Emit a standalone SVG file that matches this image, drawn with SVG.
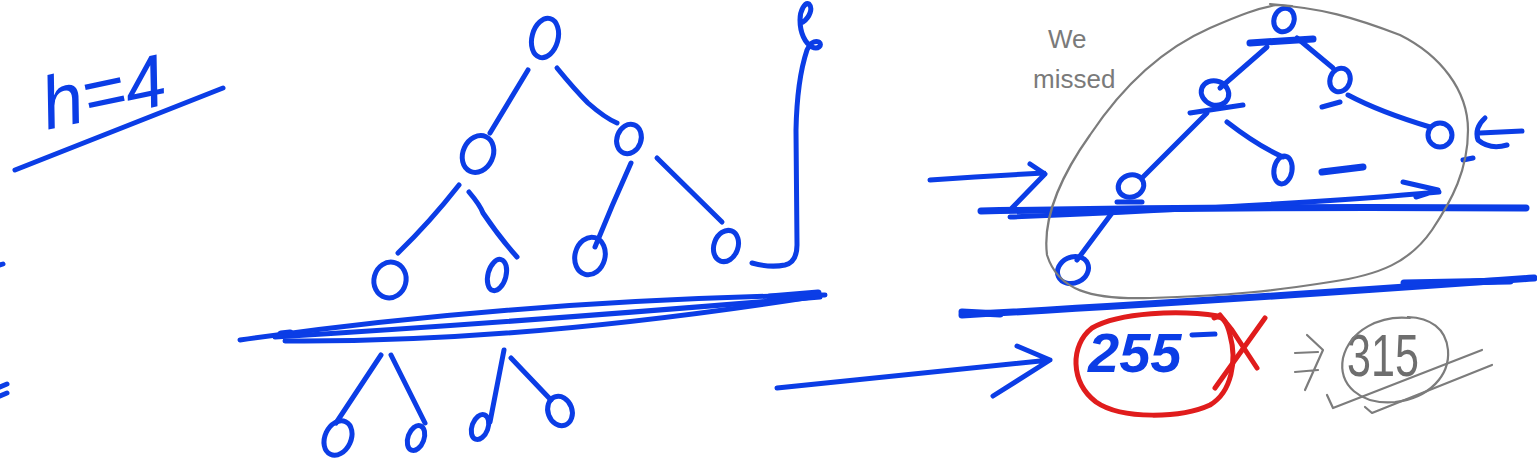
<svg xmlns="http://www.w3.org/2000/svg" width="1537" height="470" viewBox="0 0 1537 470">
<style>
.b{fill:none;stroke:#0b3de6;stroke-width:5;stroke-linecap:round;stroke-linejoin:round}
.bt{fill:none;stroke:#0b3de6;stroke-width:7;stroke-linecap:round;stroke-linejoin:round}
.r{fill:none;stroke:#e01c1c;stroke-width:5;stroke-linecap:round;stroke-linejoin:round}
.g{fill:none;stroke:#7c7c7c;stroke-width:2.2;stroke-linecap:round;stroke-linejoin:round}
.n{fill:none;stroke:#0b3de6;stroke-width:5}
.hand{font-family:"Liberation Sans","DejaVu Sans",sans-serif}
</style>
<rect width="1537" height="470" fill="#ffffff"/>

<!-- h = 4 -->
<g id="height-label">
<text class="hand" x="40" y="118" font-size="74" font-style="italic" fill="#0b3de6" transform="rotate(-12 100 90)">h=4</text>
<path class="b" d="M15,170 L223,88"/>
</g>

<!-- left edge fragments -->
<g id="edge-marks">
<path class="b" d="M0,265 L3,264 M0,387 L7,384 M0,396 L7,393"/>
</g>

<!-- left tree nodes -->
<g id="left-tree">
<g id="lt-root"><ellipse class="n" cx="545" cy="38" rx="13" ry="20" transform="rotate(15 545 38)"/></g>
<g id="lt-a"><ellipse class="n" cx="478" cy="154" rx="15" ry="19" transform="rotate(25 478 154)"/></g>
<g id="lt-b"><ellipse class="n" cx="629" cy="139" rx="12" ry="15" transform="rotate(20 629 139)"/></g>
<g id="lt-c"><ellipse class="n" cx="390" cy="280" rx="16" ry="18" transform="rotate(15 390 280)"/></g>
<g id="lt-d"><ellipse class="n" cx="497" cy="275" rx="9" ry="16" transform="rotate(15 497 275)"/></g>
<g id="lt-e"><ellipse class="n" cx="590" cy="256" rx="15" ry="19" transform="rotate(15 590 256)"/></g>
<g id="lt-f"><ellipse class="n" cx="726" cy="246" rx="12" ry="16" transform="rotate(20 726 246)"/></g>
<g id="lt-g"><ellipse class="n" cx="338" cy="438" rx="13" ry="18" transform="rotate(25 338 438)"/></g>
<g id="lt-h"><ellipse class="n" cx="416" cy="438" rx="8" ry="13" transform="rotate(20 416 438)"/></g>
<g id="lt-i"><ellipse class="n" cx="480" cy="427" rx="8" ry="13" transform="rotate(20 480 427)"/></g>
<g id="lt-j"><ellipse class="n" cx="560" cy="411" rx="12" ry="15" transform="rotate(-20 560 411)"/></g>
</g>

<!-- right tree nodes -->
<g id="right-tree">
<g id="rt-root"><ellipse class="n" cx="1284" cy="20" rx="10" ry="12" transform="rotate(20 1284 20)"/></g>
<g id="rt-a"><ellipse class="n" cx="1215" cy="93" rx="14" ry="12" transform="rotate(20 1215 93)"/></g>
<g id="rt-b"><ellipse class="n" cx="1340" cy="80" rx="10" ry="12" transform="rotate(20 1340 80)"/></g>
<g id="rt-c"><ellipse class="n" cx="1440" cy="135" rx="12" ry="12"/></g>
<g id="rt-d"><ellipse class="n" cx="1283" cy="170" rx="9" ry="14" transform="rotate(10 1283 170)"/></g>
<g id="rt-e"><ellipse class="n" cx="1131" cy="186" rx="13" ry="11" transform="rotate(-20 1131 186)"/></g>
<g id="rt-f"><ellipse class="n" cx="1073" cy="270" rx="16" ry="13" transform="rotate(-25 1073 270)"/></g>
</g>

<!-- connectors -->
<g id="connectors">
<path class="b" d="M528,70 Q510,100 490,133"/>
<path class="b" d="M557,68 Q575,90 588,103 Q605,118 617,123"/>
<path class="b" d="M459,185 Q430,222 398,253"/>
<path class="b" d="M469,192 Q480,205 483,213 Q500,238 517,257"/>
<path class="b" d="M631,163 Q612,205 595,247"/>
<path class="b" d="M657,158 L722,222"/>
<path class="b" d="M381,355 L336,423"/>
<path class="b" d="M391,355 L425,423"/>
<path class="b" d="M504,350 L490,422"/>
<path class="b" d="M511,358 L551,400"/>
<path class="b" d="M752,263 Q770,268 785,265 Q797,262 797,245 L796,130 Q797,80 807,50 C809,44 814,40 819,42 C823,45 818,50 812,47 C805,43 800,33 800,20 C800,10 805,2 809,4 C813,8 810,17 803,22"/>
<path class="b" d="M1267,47 L1220,88"/>
<path class="b" d="M1297,38 L1333,68"/>
<path class="b" d="M1348,95 Q1380,112 1430,127"/>
<path class="b" d="M1227,122 Q1258,146 1283,157"/>
<path class="b" d="M1207,113 L1143,177"/>
<path class="b" d="M1112,213 L1077,260"/>
<path class="b" d="M930,180 Q990,176 1044,173 M1030,164 L1045,174 L1012,208"/>
<path class="b" d="M777,388 L1050,360 M1017,346 L1050,360 L993,396"/>
<path class="b" d="M1485,118 Q1474,128 1478,140 Q1490,150 1507,145 M1480,133 L1522,131"/>
</g>

<!-- level lines and marks -->
<g id="level-lines">
<path class="b" d="M240,340 Q520,300 825,295"/>
<path class="b" d="M275,337 Q520,322 820,297"/>
<path class="b" d="M285,341 Q520,343 818,296"/>
<path class="bt" d="M770,297 L818,293"/>
<path class="bt" d="M281,334 L290,333"/>
<path class="bt" d="M981,211 Q1250,206 1526,208"/>
<path class="b" d="M1010,217 Q1300,205 1439,192 M1403,182 L1438,190 L1416,197"/>
<path class="bt" d="M962,315 Q1200,302 1534,278"/>
<path class="bt" d="M962,312 L1000,314"/>
<path class="bt" d="M1404,283 L1510,281"/>
<path class="bt" d="M1250,43 L1313,39"/>
<path class="b" d="M1190,113 L1243,105"/>
<path class="b" d="M1322,107 L1340,102"/>
<path class="bt" d="M1322,172 L1363,167"/>
<path class="b" d="M1117,202 L1142,202"/>
<path class="b" d="M1463,160 L1473,158"/>
</g>

<!-- gray annotation -->
<g id="missed-group">
<path class="g" d="M1277,5 C1320,8 1353,17 1400,35 C1440,55 1468,90 1468,130 C1468,170 1452,200 1432,230 C1410,262 1380,275 1330,282 C1280,290 1230,296 1150,298 C1090,300 1058,290 1047,255 C1042,215 1065,170 1090,135 C1120,90 1160,50 1210,28 C1240,15 1258,8 1277,5"/>
<path class="g" d="M1270,4 L1292,6"/>
<text class="hand" x="1048" y="48" font-size="26" fill="#7a7a7a">We</text>
<text class="hand" x="1033" y="88" font-size="26" fill="#7a7a7a">missed</text>
</g>

<!-- result 255 -->
<g id="result-255">
<text class="hand" x="1088" y="372" font-size="56" font-style="italic" font-weight="bold" fill="#0b3de6">255</text>
<path class="b" d="M1192,335 L1215,334"/>
<path class="r" d="M1218,316 C1180,310 1120,312 1092,328 C1070,345 1070,382 1096,402 C1122,420 1182,418 1210,405 C1232,392 1237,360 1230,335 C1227,322 1222,314 1214,318"/>
<path class="r" d="M1265,318 L1215,388 M1220,315 L1232,330 L1257,368"/>
</g>

<!-- result 315 -->
<g id="result-315">
<path class="g" d="M1295,353 L1318,352 M1295,372 L1318,370 M1307,335 L1323,350 L1305,390"/>
<text class="hand" x="1347" y="376" font-size="60" fill="#6e6e6e" textLength="72" lengthAdjust="spacingAndGlyphs">315</text>
<path class="g" d="M1410,318 C1380,315 1350,330 1343,358 C1338,385 1360,405 1395,402 C1430,398 1450,375 1448,350 C1446,328 1430,318 1408,317"/>
<path class="g" d="M1327,395 L1333,408 L1482,350 M1365,407 L1372,413 L1492,365"/>
</g>
</svg>
